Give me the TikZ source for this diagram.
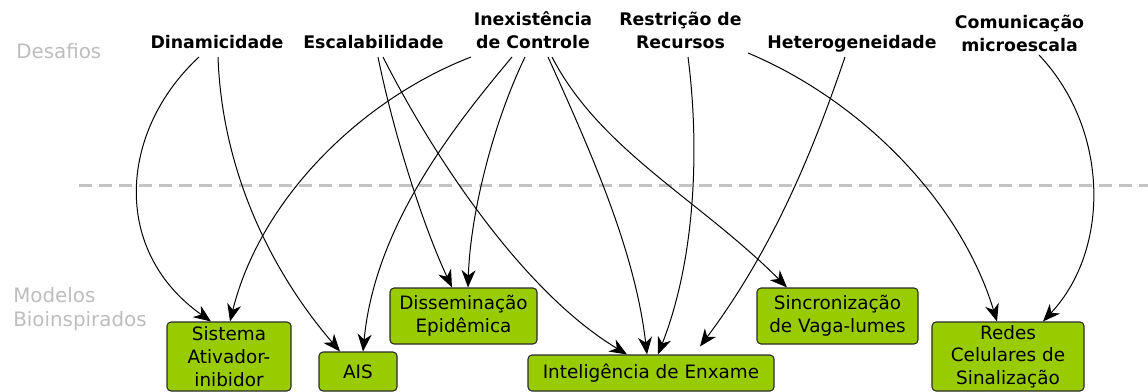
\documentclass[tikz,border=0pt]{standalone}
\usepackage{fontspec}
\setmainfont{DejaVu Sans}
\usetikzlibrary{arrows.meta,calc}
\newdimen\pxu \pxu=0.75pt
\definecolor{boxgreen}{HTML}{99CC00}
\definecolor{boxborder}{HTML}{2A2A2A}
\definecolor{sepgray}{HTML}{C4C4C4}
\definecolor{labgray}{HTML}{BDBDBD}
\tikzset{
  challenge/.style={font=\bfseries\fontsize{13}{17.25}\selectfont, align=center, inner sep=0pt, anchor=south, text depth=0pt},
  model/.style={draw=boxborder, fill=boxgreen, rounded corners=3pt, line width=0.8pt, align=center, inner sep=0pt, font=\fontsize{13.8}{17}\selectfont},
  glabel/.style={text=labgray, inner sep=0pt, anchor=west, font=\fontsize{14.9}{18}\selectfont},
  conn/.style={-{Stealth[length=13pt,width=10.5pt,inset=4pt]}, line width=0.75pt},
  sepline/.style={sepgray, line width=2.25pt, dash pattern=on 10pt off 5pt}
}
\begin{document}
\begin{tikzpicture}[x=0.75pt, y=-0.75pt]
\useasboundingbox (0,0) rectangle (1148,392);
% separator and section labels
\draw[sepline] (79,185) -- (1148,185);
\node[glabel] (desafios) at (16,51) {Desafios};
\node[glabel, align=left] (modelos) at (13,309) {Modelos\\Bioinspirados};
% challenges
\node[challenge] (din) at (217,48.5) {Dinamicidade};
\node[challenge] (esc) at (373.5,48.5) {Escalabilidade};
\node[challenge] (inex) at (533,48.5) {Inexistência\\de Controle};
\node[challenge] (res) at (680.5,48.5) {Restrição de\\Recursos};
\node[challenge] (het) at (852,48.5) {Heterogeneidade};
\node[challenge] (com) at (1019.5,52) {Comunicação\\microescala};
% models
\node[model, minimum width=124\pxu, minimum height=69\pxu] (sis) at (229,356.5) {Sistema\\Ativador-\\inibidor};
\node[model, minimum width=78\pxu, minimum height=39\pxu] (ais) at (358,371.5) {AIS};
\node[model, minimum width=147\pxu, minimum height=56\pxu] (dis) at (463.5,316) {Disseminação\\Epidêmica};
\node[model, minimum width=246\pxu, minimum height=36\pxu] (int) at (651,373) {Inteligência de Enxame};
\node[model, minimum width=161\pxu, minimum height=56\pxu] (sinc) at (837.5,316) {Sincronização\\de Vaga-lumes};
\node[model, minimum width=152\pxu, minimum height=69\pxu] (red) at (1008,356.5) {Redes\\Celulares de\\Sinalização};
% connectors
\draw[conn] ($(din.south)+(-18,8.5)$) .. controls (120,130) and (110,250) .. ($(sis.north)+(-18,0)$);
\draw[conn] ($(din.south)+(1,8.5)$) .. controls (222,170) and (270,270) .. ($(ais.north)+(-18,0)$);
\draw[conn] ($(inex.south)+(-62,8.5)$) .. controls (360,100) and (260,200) .. ($(sis.north)+(1,0)$);
\draw[conn] ($(inex.south)+(-21,8.5)$) .. controls (455,125) and (375,225) .. ($(ais.north)+(5,0)$);
\draw[conn] ($(inex.south)+(-8,8.5)$) .. controls (490,130) and (470,220) .. ($(dis.north)+(4.5,0)$);
\draw[conn] ($(esc.south)+(4.5,8.5)$) .. controls (395,140) and (425,230) .. ($(dis.north)+(-11.5,0)$);
\draw[conn] ($(esc.south)+(9.5,8.5)$) .. controls (430,150) and (520,290) .. ($(int.north)+(-24,0)$);
\draw[conn] ($(inex.south)+(15,8.5)$) .. controls (590,150) and (635,250) .. ($(int.north)+(-4,0)$);
\draw[conn] ($(inex.south)+(19,8.5)$) .. controls (600,150) and (700,200) .. ($(sinc.north)+(-50.5,0)$);
\draw[conn] ($(res.south)+(7.5,8.5)$) .. controls (700,150) and (695,260) .. ($(int.north)+(7,0)$);
\draw[conn] ($(het.south)+(-7,8.5)$) .. controls (820,130) and (780,240) .. ($(int.north)+(49,-8)$);
\draw[conn] ($(res.south)+(67.5,4.5)$) .. controls (860,100) and (960,200) .. ($(red.north)+(-11,0)$);
\draw[conn] ($(com.south)+(19.5,3)$) .. controls (1110,130) and (1110,250) .. ($(red.north)+(35,0)$);
\end{tikzpicture}
\end{document}
